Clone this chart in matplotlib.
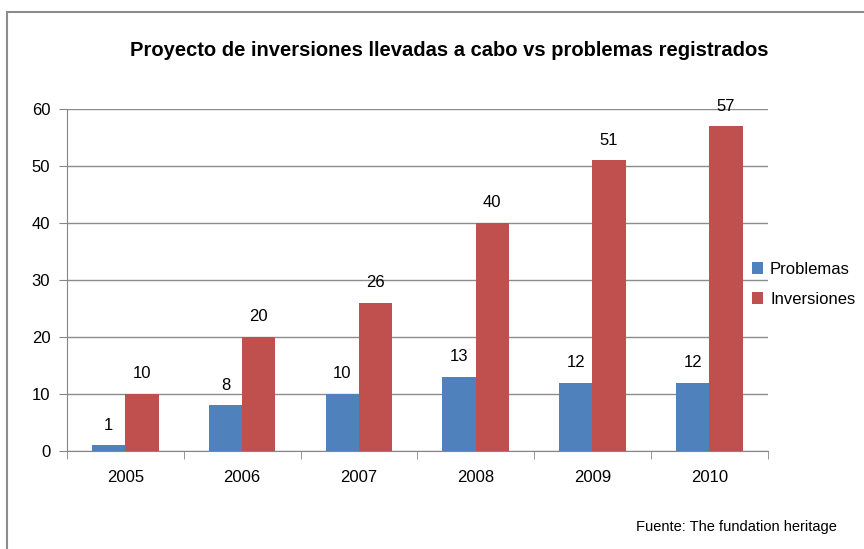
import matplotlib
matplotlib.use('Agg')
import matplotlib.pyplot as plt
import numpy as np
from matplotlib.patches import Rectangle

years = ['2005', '2006', '2007', '2008', '2009', '2010']
problemas = [1, 8, 10, 13, 12, 12]
inversiones = [10, 20, 26, 40, 51, 57]

plt.rcParams['font.family'] = ['Liberation Sans', 'DejaVu Sans']

fig = plt.figure(figsize=(8.64, 5.49), dpi=100)
ax = fig.add_axes([0.0775, 0.1785, 0.811, 0.623])

# borde del grafico (solo se ven izquierda y arriba)
fig.patches.append(Rectangle((7 / 864, -0.1), 1.2, 1 - 12 / 549 + 0.1,
                             transform=fig.transFigure, fill=False,
                             edgecolor='#8c8c8c', linewidth=1.5))

x = np.arange(len(years))
w = 0.285
b1 = ax.bar(x - w / 2, problemas, w, color='#4F81BD', label='Problemas', zorder=3)
b2 = ax.bar(x + w / 2, inversiones, w, color='#C0504D', label='Inversiones', zorder=3)

for rects, vals in ((b1, problemas), (b2, inversiones)):
    for r, v in zip(rects, vals):
        ax.text(r.get_x() + r.get_width() / 2, v + 2.2, str(v), ha='center',
                va='bottom', fontsize=12, color='black')

ax.set_xlim(-0.5, len(years) - 0.5)
ax.set_ylim(0, 60)
ax.set_yticks(range(0, 61, 10))
ax.set_xticks(x)
ax.set_xticklabels(years)
ax.set_xticks(np.arange(-0.5, len(years)), minor=True)
ax.tick_params(axis='x', which='major', length=0, pad=14, labelsize=12)
ax.tick_params(axis='x', which='minor', length=6, color='#868686', direction='out')
ax.tick_params(axis='y', length=6, color='#868686', labelsize=12, pad=6)
ax.grid(axis='y', color='#8c8c8c', linewidth=1, zorder=0)

for s in ('top', 'right'):
    ax.spines[s].set_visible(False)
ax.spines['left'].set_color('#868686')
ax.spines['bottom'].set_color('#868686')

fig.text(449 / 864, 1 - 50 / 549, 'Proyecto de inversiones llevadas a cabo vs problemas registrados',
         ha='center', va='center', fontsize=14.5, fontweight='bold')

fig.legend(handles=[b1, b2], loc='center left', bbox_to_anchor=(745 / 864, 1 - 284 / 549),
           frameon=False, fontsize=12, handlelength=0.7, handleheight=0.7,
           handletextpad=0.4, labelspacing=0.9, borderaxespad=0)

fig.text(837 / 864, 1 - 527 / 549, 'Fuente: The fundation heritage', ha='right',
         va='center', fontsize=10.5)

fig.savefig('out.png', dpi=100)
